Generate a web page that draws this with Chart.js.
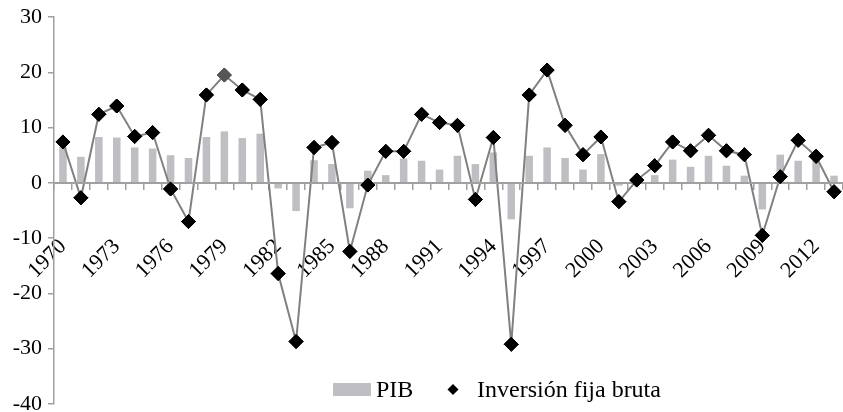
<!DOCTYPE html>
<html lang="es">
<head>
    <meta charset="UTF-8">
    <title>PIB e inversión fija bruta</title>
    <script src="https://cdn.jsdelivr.net/npm/chart.js"></script>
    <style>
        html, body { margin: 0; padding: 0; background: #fff; }
        .chart-container { width: 843px; height: 412px; position: relative; }
    </style>
</head>
<body>
    <div class="chart-container">
        <canvas id="pibChart"></canvas>
    </div>

    <script>
        // tasas de crecimiento anual (%)
        const years = ['1970', '1971', '1972', '1973', '1974', '1975', '1976', '1977', '1978', '1979',
            '1980', '1981', '1982', '1983', '1984', '1985', '1986', '1987', '1988', '1989',
            '1990', '1991', '1992', '1993', '1994', '1995', '1996', '1997', '1998', '1999',
            '2000', '2001', '2002', '2003', '2004', '2005', '2006', '2007', '2008', '2009',
            '2010', '2011', '2012', '2013'];
        const pib = [6.5, 4.7, 8.3, 8.2, 6.4, 6.2, 5.0, 4.5, 8.3, 9.3,
            8.1, 8.9, -1.0, -5.1, 4.1, 3.4, -4.6, 2.2, 1.4, 4.4,
            4.0, 2.4, 4.9, 3.4, 5.5, -6.6, 4.9, 6.4, 4.5, 2.4,
            5.2, -0.5, 0.8, 1.4, 4.2, 2.9, 4.9, 3.1, 1.3, -4.8,
            5.1, 4.0, 4.1, 1.3];
        const inversion = [7.4, -2.7, 12.4, 13.9, 8.4, 9.1, -1.1, -7.0, 15.9, 19.5,
            16.8, 15.1, -16.4, -28.7, 6.4, 7.3, -12.4, -0.4, 5.7, 5.7,
            12.4, 10.9, 10.4, -3.0, 8.2, -29.2, 15.9, 20.4, 10.4, 5.1,
            8.3, -3.4, 0.5, 3.1, 7.4, 5.8, 8.6, 5.8, 5.1, -9.5,
            1.1, 7.7, 4.8, -1.6];
        const tickYears = ['1970', '1973', '1976', '1979', '1982', '1985', '1988', '1991',
            '1994', '1997', '2000', '2003', '2006', '2009', '2012'];
        const yTicks = [-40, -30, -20, -10, 0, 10, 20, 30];

        const FONT = '"Liberation Serif", "Times New Roman", serif';
        const AXIS_GRAY = '#a0a0a0';
        const BAR_GRAY = '#bfbfc3';

        // el punto de 1979 va en gris oscuro
        const markerColors = years.map(y => y === '1979' ? '#555555' : '#000000');

        // sin márgenes automáticos por las etiquetas: el área la fija layout.padding
        function noLabelPadding(scale) {
            scale.paddingTop = 0;
            scale.paddingBottom = 0;
            scale.paddingLeft = 0;
            scale.paddingRight = 0;
        }

        // eje horizontal en el valor cero; después se repintan los rombos encima
        const zeroLine = {
            id: 'zeroLine',
            afterDatasetsDraw(chart) {
                const { ctx, chartArea, scales } = chart;
                const y0 = Math.round(scales.y.getPixelForValue(0));
                ctx.save();
                ctx.setLineDash([]);
                ctx.globalAlpha = 1;
                ctx.globalCompositeOperation = 'source-over';
                ctx.fillStyle = AXIS_GRAY;
                ctx.fillRect(chartArea.left, y0 - 1, chartArea.right - chartArea.left, 2);
                ctx.restore();

                chart.getDatasetMeta(0).data.forEach(pt => pt.draw(ctx, chartArea));
            }
        };

        // leyenda dibujada dentro del área del gráfico, abajo al centro
        const innerLegend = {
            id: 'innerLegend',
            afterDraw(chart) {
                const ctx = chart.ctx;
                const y = 389.5;
                ctx.save();
                ctx.font = '24px ' + FONT;
                ctx.textBaseline = 'middle';

                ctx.fillStyle = BAR_GRAY;
                ctx.fillRect(333, y - 6.5, 38, 13);

                ctx.fillStyle = '#000';
                ctx.fillText('PIB', 376, y + 1);

                const dx = 453;
                ctx.beginPath();
                ctx.moveTo(dx, y - 5.5);
                ctx.lineTo(dx + 5.5, y);
                ctx.lineTo(dx, y + 5.5);
                ctx.lineTo(dx - 5.5, y);
                ctx.closePath();
                ctx.fill();

                ctx.fillText('Inversión fija bruta', 477, y + 1);
                ctx.restore();
            }
        };

        const ctx = document.getElementById('pibChart').getContext('2d');
        new Chart(ctx, {
            data: {
                labels: years,
                datasets: [{
                    type: 'line',
                    label: 'Inversión fija bruta',
                    data: inversion,
                    borderColor: '#808080',
                    borderWidth: 2,
                    tension: 0,
                    pointStyle: 'rectRot',
                    pointRadius: 7,
                    pointBackgroundColor: markerColors,
                    pointBorderColor: markerColors,
                    pointBorderWidth: 1,
                    order: 1
                }, {
                    type: 'bar',
                    label: 'PIB',
                    data: pib,
                    backgroundColor: BAR_GRAY,
                    barPercentage: 0.42,
                    categoryPercentage: 1,
                    order: 2
                }]
            },
            options: {
                responsive: true,
                maintainAspectRatio: false,
                animation: false,
                layout: {
                    autoPadding: false,
                    padding: { top: 17, bottom: 8, left: 0, right: 0 }
                },
                plugins: {
                    legend: { display: false },
                    tooltip: { enabled: false }
                },
                scales: {
                    x: {
                        position: { y: 0 },
                        afterFit: noLabelPadding,
                        grid: {
                            drawOnChartArea: false,
                            drawTicks: true,
                            tickLength: 7,
                            color: AXIS_GRAY,
                            lineWidth: 1.5
                        },
                        border: { display: false },
                        ticks: {
                            autoSkip: false,
                            minRotation: 45,
                            maxRotation: 45,
                            padding: 44,
                            labelOffset: 0,
                            color: '#000',
                            font: { family: FONT, size: 22 },
                            callback: function (value, index) {
                                const lbl = years[index];
                                return tickYears.includes(lbl) ? lbl : '';
                            }
                        }
                    },
                    y: {
                        min: -40,
                        max: 30,
                        afterFit: scale => {
                            scale.width = 54;
                            noLabelPadding(scale);
                        },
                        afterBuildTicks: scale => {
                            scale.ticks = yTicks.map(v => ({ value: v }));
                        },
                        grid: {
                            drawOnChartArea: false,
                            drawTicks: true,
                            tickLength: 6,
                            color: AXIS_GRAY,
                            lineWidth: 1.5
                        },
                        border: { color: AXIS_GRAY, width: 1.5 },
                        ticks: {
                            padding: 6,
                            color: '#000',
                            font: { family: FONT, size: 22 }
                        }
                    }
                }
            },
            plugins: [zeroLine, innerLegend]
        });
    </script>
</body>
</html>
